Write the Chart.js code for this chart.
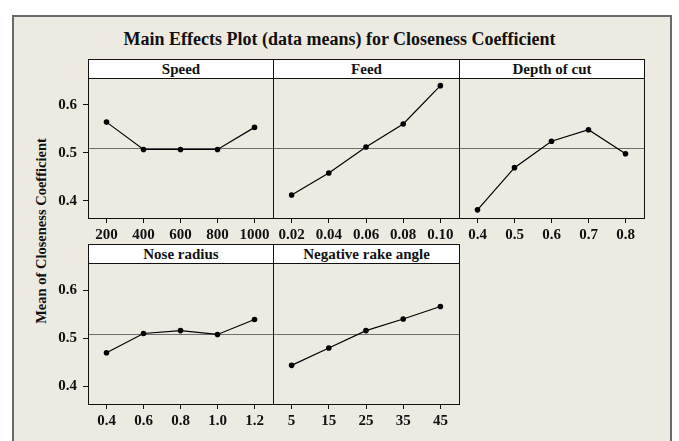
<!DOCTYPE html>
<html>
<head>
<meta charset="utf-8">
<script src="https://cdn.jsdelivr.net/npm/chart.js@4.4.1/dist/chart.umd.min.js"></script>
<style>
  body { margin: 0; background: #fff; width: 679px; height: 441px; overflow: hidden; position: relative; font-family: "Liberation Serif", serif; }
  #frame { position: absolute; left: 12px; top: 15px; width: 660px; height: 440px; border: 2px solid #6a6a6a; background: #edeae1; box-sizing: border-box; }
  .title { position: absolute; left: 0; width: 679px; top: 29px; text-align: center; font-weight: bold; font-size: 18px; color: #111; }
  .head { position: absolute; box-sizing: border-box; border: 1px solid #111; background: #fff; text-align: center; font-weight: bold; font-size: 15px; line-height: 18px; color: #111; }
  .ylab { position: absolute; left: 41px; top: 231px; transform: translate(-50%, -50%) rotate(-90deg); white-space: nowrap; font-weight: bold; font-size: 14.5px; color: #111; }
  canvas { position: absolute; }
</style>
</head>
<body>
<div id="frame"></div>
<div class="title">Main Effects Plot (data means) for Closeness Coefficient</div>
<div class="ylab">Mean of Closeness Coefficient</div>
<div id="heads"></div>
<div id="plots"></div>
<script>
const speedLevels = ["200", "400", "600", "800", "1000"];
const speedMeans = [0.564, 0.507, 0.507, 0.507, 0.553];
const feedLevels = ["0.02", "0.04", "0.06", "0.08", "0.10"];
const feedMeans = [0.412, 0.458, 0.512, 0.560, 0.640];
const depthLevels = ["0.4", "0.5", "0.6", "0.7", "0.8"];
const depthMeans = [0.381, 0.469, 0.524, 0.548, 0.498];
const noseLevels = ["0.4", "0.6", "0.8", "1.0", "1.2"];
const noseMeans = [0.470, 0.510, 0.516, 0.508, 0.539];
const rakeLevels = ["5", "15", "25", "35", "45"];
const rakeMeans = [0.444, 0.480, 0.516, 0.540, 0.566];
const grandMean = 0.509;
const yTicks = [0.4, 0.5, 0.6];
const yMin = 0.364;
const yMax = 0.656;

const panels = [
  { name: "Speed", labels: speedLevels, data: speedMeans, left: 88, right: 273, top: 78, bottom: 218, yAxis: true },
  { name: "Feed", labels: feedLevels, data: feedMeans, left: 273, right: 459, top: 78, bottom: 218, yAxis: false },
  { name: "Depth of cut", labels: depthLevels, data: depthMeans, left: 459, right: 644, top: 78, bottom: 218, yAxis: false },
  { name: "Nose radius", labels: noseLevels, data: noseMeans, left: 88, right: 273, top: 263, bottom: 404, yAxis: true },
  { name: "Negative rake angle", labels: rakeLevels, data: rakeMeans, left: 273, right: 459, top: 263, bottom: 404, yAxis: false },
];

const tickFont = { family: "Liberation Serif", size: 15, weight: "bold" };
const Y_W = 40;
const X_H = 24;

// box round the plot area + the overall mean line
const framePlugin = {
  id: "frame",
  beforeDatasetsDraw(chart) {
    const { ctx, chartArea: a, scales } = chart;
    const y = Math.round(scales.y.getPixelForValue(grandMean)) + 0.5;
    ctx.save();
    ctx.strokeStyle = "#6e6e6e";
    ctx.lineWidth = 1;
    ctx.beginPath();
    ctx.moveTo(a.left, y);
    ctx.lineTo(a.right, y);
    ctx.stroke();
    ctx.restore();
  },
  afterDraw(chart) {
    const { ctx, chartArea: a } = chart;
    ctx.save();
    ctx.strokeStyle = "#111";
    ctx.lineWidth = 1;
    ctx.strokeRect(a.left + 0.5, a.top + 0.5, a.right - a.left, a.bottom - a.top);
    ctx.restore();
  },
};

const heads = document.getElementById("heads");
const plots = document.getElementById("plots");

panels.forEach((p) => {
  const head = document.createElement("div");
  head.className = "head";
  head.style.left = p.left + "px";
  head.style.top = p.top - 19 + "px";
  head.style.width = p.right - p.left + 1 + "px";
  head.style.height = "20px";
  head.textContent = p.name;
  heads.appendChild(head);

  const padL = 1 + (p.yAxis ? Y_W : 0);
  const w = padL + (p.right - p.left) + 2;
  const h = 1 + (p.bottom - p.top) + X_H + 2;
  const cv = document.createElement("canvas");
  cv.width = w;
  cv.height = h;
  cv.style.width = w + "px";
  cv.style.height = h + "px";
  cv.style.left = p.left - padL + "px";
  cv.style.top = p.top - 1 + "px";
  plots.appendChild(cv);

  new Chart(cv.getContext("2d"), {
    type: "line",
    data: {
      labels: p.labels,
      datasets: [
        {
          data: p.data,
          borderColor: "#000",
          backgroundColor: "#000",
          borderWidth: 1.2,
          pointRadius: 2.8,
          pointBorderWidth: 0,
          tension: 0,
        },
      ],
    },
    options: {
      responsive: false,
      animation: false,
      layout: { autoPadding: false, padding: { left: 1, right: 2, top: 1, bottom: 2 } },
      plugins: { legend: { display: false }, tooltip: { enabled: false } },
      scales: {
        x: {
          type: "category",
          offset: true,
          border: { display: false },
          grid: { drawOnChartArea: false, offset: false, tickLength: 5, color: "#111" },
          ticks: { color: "#111", font: tickFont, padding: 3, maxRotation: 0, autoSkip: false },
          afterFit: (s) => {
            s.height = X_H;
            s.paddingLeft = 0;
            s.paddingRight = 0;
          },
        },
        y: {
          display: p.yAxis,
          min: yMin,
          max: yMax,
          border: { display: false },
          grid: { drawOnChartArea: false, tickLength: 5, color: "#111" },
          ticks: { color: "#111", font: tickFont, padding: 6 },
          afterBuildTicks: (s) => { s.ticks = yTicks.map((v) => ({ value: v })); },
          afterFit: (s) => {
            s.width = p.yAxis ? Y_W : 0;
            s.paddingTop = 0;
            s.paddingBottom = 0;
          },
        },
      },
    },
    plugins: [framePlugin],
  });
});
</script>
</body>
</html>
